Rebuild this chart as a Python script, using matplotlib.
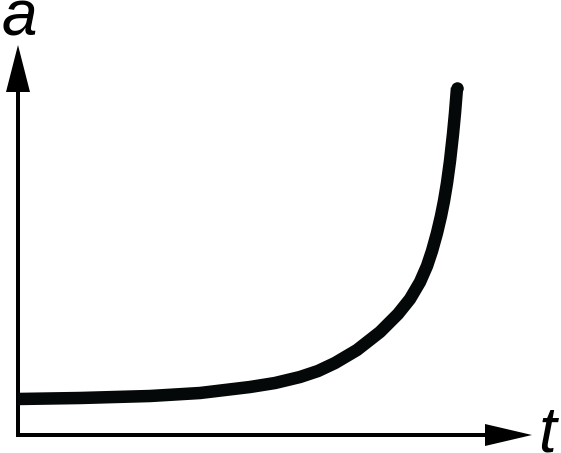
import matplotlib
matplotlib.use("Agg")
import matplotlib.pyplot as plt

# curve (t along, a up), axis origin at 0,0
t_vals = [0, 62, 132, 182, 232, 257, 282, 300, 317, 339, 362, 380,
          392, 402, 409, 414, 419, 423, 426, 429, 432, 435, 437, 439]
a_vals = [36, 37, 39, 42, 48, 52, 58, 64, 72, 85, 103, 121,
          136, 153, 169, 184, 202, 219, 234, 252, 274, 301, 322, 347]

x_label = "t"
y_label = "a"

fig = plt.figure(figsize=(5.61, 4.53), dpi=100, facecolor="white")
ax = fig.add_axes([0, 0, 1, 1], frameon=False)
ax.set_xlim(-18, 543)
ax.set_ylim(-18, 435)
ax.set_xticks([])
ax.set_yticks([])

# axes with arrow heads
ax.arrow(-2, 0, 516, 0, width=4, head_width=22, head_length=47,
         length_includes_head=True, color="black", lw=0)
ax.arrow(0, -2, 0, 392, width=4, head_width=24, head_length=47,
         length_includes_head=True, color="black", lw=0)

# the curve, round end only at the top
ax.plot(t_vals, a_vals, color="#050808", lw=9, solid_capstyle="butt",
        solid_joinstyle="round")
ax.plot(t_vals[-1:], a_vals[-1:], "o", color="#050808", ms=9, mew=0)

ax.text(-16, 400, y_label, fontsize=46, style="italic",
        family="Liberation Sans", ha="left", va="baseline")
ax.text(520, -17, x_label, fontsize=46, style="italic",
        family="Liberation Sans", ha="left", va="baseline")

fig.savefig("out.png", dpi=100, facecolor="white")
